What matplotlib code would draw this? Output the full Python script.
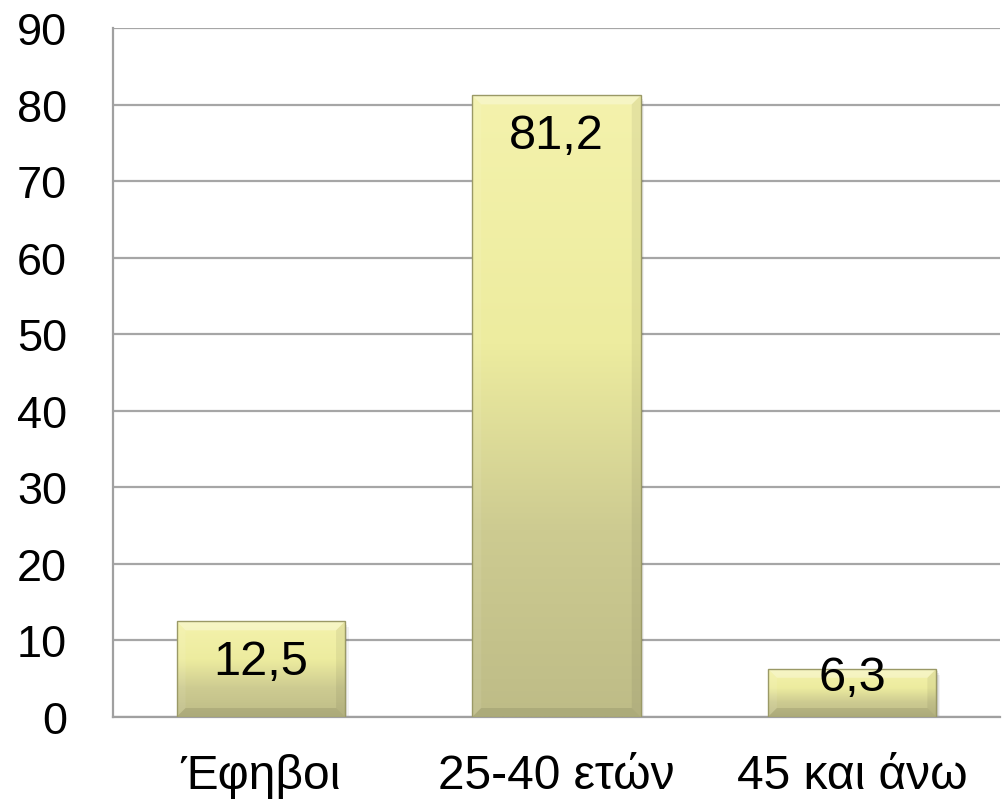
import numpy as np
import matplotlib
matplotlib.use("Agg")
import matplotlib.pyplot as plt
from matplotlib.colors import LinearSegmentedColormap
from matplotlib.patches import Polygon, Rectangle

categories = ["Έφηβοι", "25-40 ετών", "45 και άνω"]
values = [12.5, 81.2, 6.3]
value_labels = ["12,5", "81,2", "6,3"]
yticks = [0, 10, 20, 30, 40, 50, 60, 70, 80, 90]

plt.rcParams['font.family'] = ['Liberation Sans', 'DejaVu Sans']

fig = plt.figure(figsize=(10.05, 8.04), dpi=100)
ax = fig.add_axes([113/1005, 86/804, 887/1005, 689/804])
ax.set_xlim(-0.5, 2.5)
ax.set_ylim(0, 90)
ax.set_yticks(yticks)
ax.set_yticklabels([str(t) for t in yticks], fontsize=32.5)
ax.set_xticks(range(len(categories)))
ax.set_xticklabels(categories, fontsize=34.5)
ax.tick_params(axis='y', length=0, pad=33)
ax.tick_params(axis='x', length=0, pad=26)
ax.grid(axis='y', color='#A6A6A6', linewidth=1.6)
ax.set_axisbelow(True)
for s in ['top', 'right']:
    ax.spines[s].set_visible(False)
for s in ['left', 'bottom']:
    ax.spines[s].set_color('#A0A0A0')
    ax.spines[s].set_linewidth(1.6)

bars = ax.bar(range(len(categories)), values, width=0.57, facecolor='none',
              edgecolor='none', zorder=3)

cmap = LinearSegmentedColormap.from_list(
    'olive', [(0.0, '#BEBC87'), (0.3, '#CDCB91'), (0.6, '#EDEC9F'), (1.0, '#F4F2AC')])
grad = np.linspace(0, 1, 256).reshape(-1, 1)

fig.canvas.draw()
px_x = (ax.get_xlim()[1] - ax.get_xlim()[0]) / ax.bbox.width
px_y = (ax.get_ylim()[1] - ax.get_ylim()[0]) / ax.bbox.height

for rect, lab, v in zip(bars.patches, value_labels, values):
    x0 = rect.get_x(); x1 = x0 + rect.get_width()
    y0 = rect.get_y(); y1 = y0 + rect.get_height()
    for k, a in [(6, 0.05), (4, 0.07), (2, 0.09)]:
        sh = Rectangle((x0 + k * px_x * 0.6, y0 - k * px_y), x1 - x0, y1 - y0,
                       facecolor='black', alpha=a, edgecolor='none', zorder=2.5)
        ax.add_patch(sh)
    im = ax.imshow(grad, cmap=cmap, extent=[x0, x1, y0, y1], origin='lower',
                   aspect='auto', zorder=3, interpolation='bilinear')
    clip = Rectangle((x0, y0), x1 - x0, y1 - y0, transform=ax.transData,
                     facecolor='none', edgecolor='none')
    ax.add_patch(clip)
    im.set_clip_path(clip)
    bx = 9 * px_x
    by = 9 * px_y
    top = Polygon([(x0, y1), (x1, y1), (x1 - bx, y1 - by), (x0 + bx, y1 - by)],
                  closed=True, facecolor='white', alpha=0.30, edgecolor='none', zorder=4)
    left = Polygon([(x0, y0), (x0, y1), (x0 + bx, y1 - by), (x0 + bx, y0 + by)],
                   closed=True, facecolor='white', alpha=0.08, edgecolor='none', zorder=4)
    bottom = Polygon([(x0, y0), (x1, y0), (x1 - bx, y0 + by), (x0 + bx, y0 + by)],
                     closed=True, facecolor='black', alpha=0.09, edgecolor='none', zorder=4)
    right = Polygon([(x1, y0), (x1, y1), (x1 - bx, y1 - by), (x1 - bx, y0 + by)],
                    closed=True, facecolor='black', alpha=0.06, edgecolor='none', zorder=4)
    for p in (top, left, bottom, right):
        ax.add_patch(p)
    edge = Rectangle((x0, y0), x1 - x0, y1 - y0, facecolor='none',
                     edgecolor='#9A9966', linewidth=1.0, zorder=5)
    ax.add_patch(edge)
    ly = max(v - 40 * px_y, 39 * px_y)
    ax.text((x0 + x1) / 2, ly, lab, ha='center', va='center', fontsize=35,
            color='black', zorder=6)

fig.savefig('out.png', dpi=100)
